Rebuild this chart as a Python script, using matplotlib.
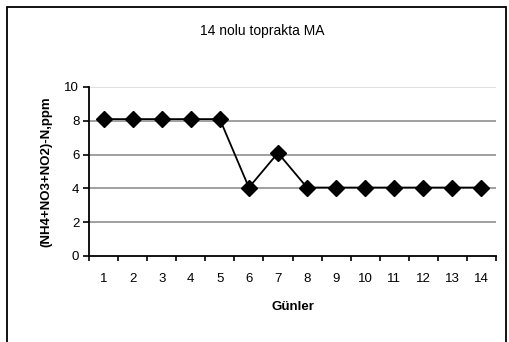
import matplotlib.pyplot as plt
from matplotlib.patches import Rectangle

plt.rcParams['font.family'] = ['Liberation Sans', 'DejaVu Sans']

# Data
days = list(range(1, 15))
values = [8.1, 8.1, 8.1, 8.1, 8.1, 4.05, 6.1, 4.05, 4.05, 4.05, 4.05, 4.05, 4.05, 4.05]
yticks = [0, 2, 4, 6, 8, 10]

fig = plt.figure(figsize=(5.09, 3.42), dpi=100)
ax = fig.add_axes([89 / 509, 1 - 256 / 342, (496 - 89) / 509, (256 - 87) / 342])

# outer chart frame
fig.patches.append(Rectangle((7 / 509, -0.1), 499 / 509, 1.1 - 7 / 342,
                             transform=fig.transFigure, fill=False,
                             edgecolor='black', linewidth=1.3))

ax.plot(days, values, color='black', linewidth=1.3, marker='D',
        markersize=8, markerfacecolor='black', zorder=3, clip_on=False)

ax.set_xlim(0.5, 14.5)
ax.set_ylim(0, 10)
ax.set_yticks(yticks)
for y in yticks[1:]:
    ax.axhline(y, color='#999999' if y < 10 else '#dddddd', linewidth=1.3, zorder=1)

ax.set_xticks(days)
ax.set_xticks([d + 0.5 for d in range(0, 15)], minor=True)
ax.tick_params(axis='x', which='major', length=0, pad=12, labelsize=9.5)
ax.tick_params(axis='x', which='minor', length=3.5, width=1.2, direction='out')
ax.tick_params(axis='y', length=4, width=1.2, labelsize=9.5, pad=3)

ax.spines['top'].set_visible(False)
ax.spines['right'].set_visible(False)
ax.spines['left'].set_linewidth(1.3)
ax.spines['bottom'].set_linewidth(1.3)

ax.set_xlabel('Günler', fontsize=9.5, fontweight='bold', labelpad=12)
ax.set_ylabel('(NH4+NO3+NO2)-N,ppm', fontsize=9.5, fontweight='bold', labelpad=9)
fig.text(262 / 509, 1 - 31 / 342, '14 nolu toprakta MA', fontsize=10,
         ha='center', va='center')

fig.savefig('out.png', dpi=100)
